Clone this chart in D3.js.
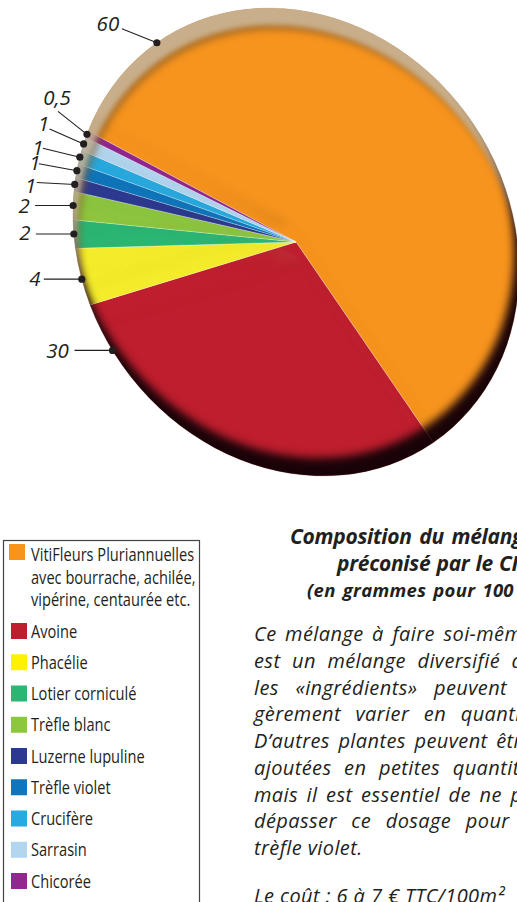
<!DOCTYPE html>
<html>
<head>
<meta charset="utf-8">
<title>Composition du mélange</title>
<script src="https://d3js.org/d3.v7.min.js"></script>
<style>
body { margin: 0; background: #fff; overflow: hidden; }
svg { display: block; }
text { font-family: "Open Sans", sans-serif; fill: #231f20; }
</style>
</head>
<body>
<script>
const categories = ["VitiFleurs Pluriannuelles", "Avoine", "Phacélie", "Lotier corniculé", "Trèfle blanc",
  "Luzerne lupuline", "Trèfle violet", "Crucifère", "Sarrasin", "Chicorée"];
const values = [60, 30, 4, 2, 2, 1, 1, 1, 1, 0.5];
const valueLabels = ["60", "30", "4", "2", "2", "1", "1", "1", "1", "0,5"];
const sliceColors = ["#f7941d", "#be1e2d", "#f4ec2a", "#2bb673", "#8dc63f", "#2b3990", "#0f75bc", "#27aae1", "#b2d6ef", "#92278f"];
const swatchColors = ["#f7941d", "#be1e2d", "#fff200", "#2bb673", "#8dc63f", "#2b3990", "#0f75bc", "#27aae1", "#b2d6ef", "#92278f"];
const firstLegendExtra = ["avec bourrache, achilée,", "vipérine, centaurée etc."];

const titleLines = ["Composition du mélange", "préconisé par le CIVC", "(en grammes pour 100 m²)"];
const bodyLines = ["Ce mélange à faire soi-même", "est un mélange diversifié dont", "les «ingrédients» peuvent lé-",
  "gèrement varier en quantité.", "D’autres plantes peuvent être", "ajoutées en petites quantités",
  "mais il est essentiel de ne pas", "dépasser ce dosage pour le", "trèfle violet."];

const width = 517, height = 902;
const cx = 296, cy = 242, rx = 243, ry = 213, tilt = 55.6;

// where on its slice each leader dot sits, and where the line and the label go from the dot
const dotAt = [0.143, 0.886, 0.46, 0.5, 0.5, 0.5, 0.5, 0.5, 0.5, 0.5];
const lineFrom = [[-35, -14], [-38, 0], [-38, 0], [-38, 0], [-38, 0], [-38, -2], [-38, -7], [-37, -9], [-34, -15], [-29, -23]];
const labelAt = [[-49, -12], [-55, 8], [-47, 7], [-49, 6], [-49, 7], [-44, 9], [-42, -1], [-42, -2], [-40, -13], [-30, -29]];

const svg = d3.select("body").append("svg").attr("width", width).attr("height", height);

// bevel of the pie: light rim from the top left, dark rim at the bottom right
const defs = svg.append("defs");
const bevel = defs.append("filter").attr("id", "bevel")
  .attr("filterUnits", "userSpaceOnUse")
  .attr("x", 0).attr("y", 0).attr("width", 800).attr("height", 600)
  .attr("color-interpolation-filters", "sRGB");

function innerShadow(name, dx, dy, blur, color, opacity) {
  bevel.append("feOffset").attr("in", "SourceAlpha").attr("dx", dx).attr("dy", dy).attr("result", name + "Off");
  bevel.append("feFlood").attr("flood-color", color).attr("flood-opacity", opacity).attr("result", name + "Col");
  bevel.append("feComposite").attr("in", name + "Col").attr("in2", name + "Off").attr("operator", "out").attr("result", name + "Inv");
  bevel.append("feGaussianBlur").attr("in", name + "Inv").attr("stdDeviation", blur).attr("result", name + "Blur");
  bevel.append("feComposite").attr("in", name + "Blur").attr("in2", "SourceAlpha").attr("operator", "in").attr("result", name);
}
innerShadow("band", 7, 22, 3.5, "#80562a", 0.6);
innerShadow("light", 4, 17, 2.5, "#d2c6b2", 0.72);
innerShadow("dark", -5, -18, 4, "#1a0308", 1);
const merge = bevel.append("feMerge");
["SourceGraphic", "band", "light", "dark"].forEach(n => merge.append("feMergeNode").attr("in", n));

const total = d3.sum(values);
const start = Math.PI / 2 - values[0] / total * 2 * Math.PI;
const pie = d3.pie().sort(null).startAngle(start).endAngle(start + 2 * Math.PI);
const arcs = pie(values);
const arc = d3.arc().innerRadius(0).outerRadius(ry);

const pieG = svg.append("g").attr("filter", "url(#bevel)")
  .append("g").attr("transform", `translate(${cx},${cy}) rotate(${tilt}) scale(${rx / ry},1)`);

pieG.selectAll("path").data(arcs).enter().append("path")
  .attr("d", arc)
  .attr("fill", (d, i) => sliceColors[i])
  .attr("stroke", "#fff")
  .attr("stroke-opacity", 0.55)
  .attr("stroke-width", 0.5)
  .attr("vector-effect", "non-scaling-stroke");

// rim point of a slice, in page pixels
function rimPoint(d, f) {
  const a = d.startAngle + (d.endAngle - d.startAngle) * f - Math.PI / 2;
  const u = rx * Math.cos(a), v = ry * Math.sin(a);
  const t = tilt * Math.PI / 180;
  return [cx + u * Math.cos(t) - v * Math.sin(t), cy + u * Math.sin(t) + v * Math.cos(t)];
}

const leaders = svg.append("g").selectAll("g").data(arcs).enter().append("g")
  .attr("transform", (d, i) => `translate(${rimPoint(d, dotAt[i])})`);
leaders.append("line")
  .attr("x1", (d, i) => lineFrom[i][0]).attr("y1", (d, i) => lineFrom[i][1])
  .attr("x2", 0).attr("y2", 0)
  .attr("stroke", "#231f20").attr("stroke-width", 1.1);
leaders.append("circle").attr("r", 3.6).attr("fill", "#231f20");
leaders.append("text")
  .attr("x", (d, i) => labelAt[i][0]).attr("y", (d, i) => labelAt[i][1])
  .attr("text-anchor", "middle")
  .attr("font-style", "italic")
  .attr("font-size", 20.5)
  .text((d, i) => valueLabels[i]);

// legend
const legend = svg.append("g");
legend.append("rect").attr("x", 3.5).attr("y", 540.5).attr("width", 196).attr("height", 400)
  .attr("fill", "none").attr("stroke", "#444").attr("stroke-width", 1.2);

const rowY = d3.scaleLinear().domain([1, 9]).range([623, 873]);
const legendText = (sel, x, y, s) => sel.append("text")
  .attr("transform", `translate(${x},${y}) scale(0.785,1)`)
  .attr("font-size", 18.6).attr("fill", "#333").text(s);

categories.forEach((c, i) => {
  const y = i === 0 ? 544 : rowY(i);
  legend.append("rect").attr("x", i === 0 ? 9 : 11).attr("y", y).attr("width", 16).attr("height", 16)
    .attr("fill", swatchColors[i]);
  legendText(legend, 31, i === 0 ? 561 : y + 14.5, c);
});
firstLegendExtra.forEach((s, i) => legendText(legend, 31, 584 + i * 22, s));

// text block, cut by the edge of the picture as in the source page
const titleX = [290, 337, 307], titleY = [544, 571, 597], titleSize = [21, 21, 18.5];
const titleLetter = [-0.3, -0.3, 0.3], titleWord = [2.5, 1, 2];
svg.append("g").selectAll("text").data(titleLines).enter().append("text")
  .attr("x", (d, i) => titleX[i]).attr("y", (d, i) => titleY[i])
  .attr("font-size", (d, i) => titleSize[i])
  .attr("font-weight", 700).attr("font-style", "italic")
  .attr("letter-spacing", (d, i) => titleLetter[i])
  .attr("word-spacing", (d, i) => titleWord[i])
  .text(d => d);

const bodySpacing = [3, 6, 11, 9, 3, 7, 3, 9, 0];
const bodyY = d3.scaleLinear().domain([0, 8]).range([641, 855]);
svg.append("g").selectAll("text").data(bodyLines).enter().append("text")
  .attr("x", 254).attr("y", (d, i) => bodyY(i))
  .attr("font-size", 20).attr("font-style", "italic")
  .attr("letter-spacing", 0.4)
  .attr("word-spacing", (d, i) => bodySpacing[i])
  .text(d => d);

svg.append("text").attr("x", 254).attr("y", 903)
  .attr("font-size", 20).attr("font-style", "italic")
  .attr("letter-spacing", 0.4)
  .text("Le coût : 6 à 7 € TTC/100m²");
</script>
</body>
</html>
